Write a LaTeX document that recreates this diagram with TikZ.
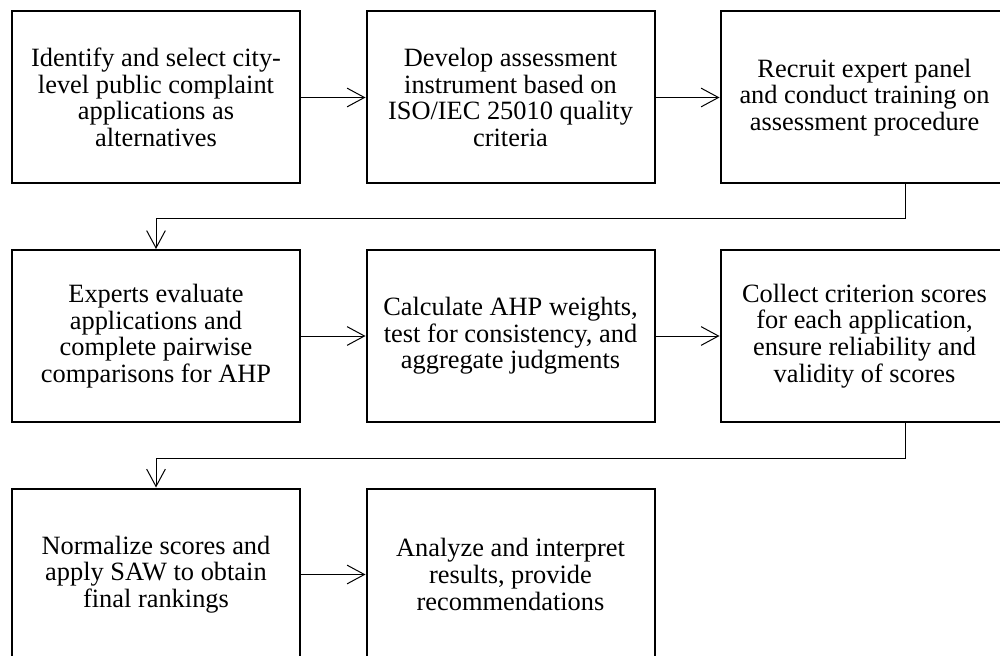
\documentclass[tikz,border=0pt]{standalone}
\usepackage{fontspec}
\setmainfont{Liberation Serif}
\usepackage{tikz}
\usetikzlibrary{arrows.meta}

\begin{document}
\begin{tikzpicture}[x=0.75pt,y=-0.75pt,
  stepbox/.style={draw,line width=1.5pt,rectangle,minimum width=216pt,minimum height=129pt,align=center,inner sep=0pt,font=\fontsize{19.8}{20}\selectfont},
  link/.style={line width=0.75pt,-{Straight Barb[length=13pt,width=14pt,line width=0.75pt]}}]
\useasboundingbox (0,0) rectangle (1000,656);

\node[stepbox] (identify) at (156,97.5) {Identify and select city-\\level public complaint\\applications as\\alternatives};
\node[stepbox] (develop) at (510.5,97.5) {Develop assessment\\instrument based on\\ISO/IEC 25010 quality\\criteria};
\node[stepbox] (recruit) at (864.5,97.5) {Recruit expert panel\\and conduct training on\\assessment procedure};

\node[stepbox] (evaluate) at (156,336) {Experts evaluate\\applications and\\complete pairwise\\comparisons for AHP};
\node[stepbox] (weights) at (510.5,336) {Calculate AHP weights,\\test for consistency, and\\aggregate judgments};
\node[stepbox] (collect) at (864.5,336) {Collect criterion scores\\for each application,\\ensure reliability and\\validity of scores};

\node[stepbox] (normalize) at (156,574.5) {Normalize scores and\\apply SAW to obtain\\final rankings};
\node[stepbox] (analyze) at (510.5,574.5) {Analyze and interpret\\results, provide\\recommendations};

\coordinate (turnA) at (905,219);
\coordinate (turnB) at (905,458);

\draw[link] (identify) -- (develop);
\draw[link] (develop) -- (recruit);
\draw[link] (recruit.south -| turnA) -- (turnA) -| (evaluate.north);
\draw[link] (evaluate) -- (weights);
\draw[link] (weights) -- (collect);
\draw[link] (collect.south -| turnB) -- (turnB) -| (normalize.north);
\draw[link] (normalize) -- (analyze);
\end{tikzpicture}
\end{document}
